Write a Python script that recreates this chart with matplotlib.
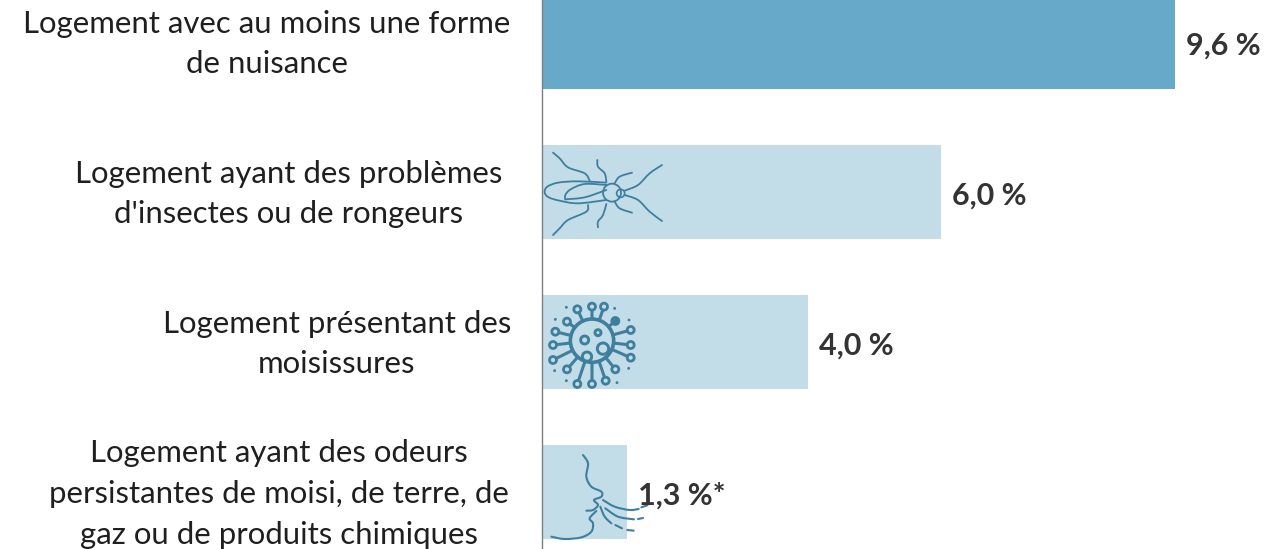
import numpy as np
import matplotlib
matplotlib.use("Agg")
import matplotlib.pyplot as plt
from matplotlib.path import Path
from matplotlib.patches import PathPatch, Ellipse

# donnees
categories = [
    "Logement avec au moins une forme\nde nuisance",
    "Logement ayant des problèmes\nd'insectes ou de rongeurs",
    "Logement présentant des\nmoisissures",
    "Logement ayant des odeurs\npersistantes de moisi, de terre, de\ngaz ou de produits chimiques",
]
values = [9.56, 6.02, 4.02, 1.28]
value_labels = ["9,6 %", "6,0 %", "4,0 %", "1,3 %*"]
bar_colors = ["#67A9C8", "#C2DCE8", "#C2DCE8", "#C2DCE8"]

# centre horizontal de chaque etiquette, en pixels
label_centers = [267, 289, 337, 279]

W, H = 1286, 549
AXIS_X = 542.0
PX_PER_UNIT = 66.2
PX_PER_ROW = 150.0
ICON = "#3F7F9E"

plt.rcParams["font.family"] = ["Lato", "DejaVu Sans"]

fig = plt.figure(figsize=(W / 100, H / 100), dpi=100)
ax = fig.add_axes([AXIS_X / W, 0, 1 - AXIS_X / W, 1])
ax.set_xlim(0, (W - AXIS_X) / PX_PER_UNIT)
ax.set_ylim((H - 42) / PX_PER_ROW, -42 / PX_PER_ROW)
ax.barh(range(len(values)), values, height=0.625, color=bar_colors, linewidth=0)

for s in ["top", "right", "bottom"]:
    ax.spines[s].set_visible(False)
ax.spines["left"].set_color("#7F7F7F")
ax.spines["left"].set_linewidth(1.0)
ax.set_xticks([])
ax.set_yticks([])

for i, (cat, val, lab, cx) in enumerate(zip(categories, values, value_labels, label_centers)):
    fig.text(cx / W, 1 - (44 + i * PX_PER_ROW) / H, cat, ha="center", va="center",
             fontsize=22.4, color="#1F1F1F", linespacing=1.56)
    ax.annotate(lab, (val, i), xytext=(8, -2.5), textcoords="offset points", ha="left",
                va="center", fontsize=22, fontweight="bold", color="#333333", zorder=5)


def to_data(pts, row):
    pts = np.array(pts, dtype=float)
    x = (pts[:, 0] - 22) / 3 / PX_PER_UNIT
    y = row + (pts[:, 1] - 156) / 3 / PX_PER_ROW
    return np.column_stack([x, y])


def curve(pts, row, lw=1.3, z=3):
    d = to_data(pts, row)
    verts = [d[0]]
    codes = [Path.MOVETO]
    # catmull-rom pour passer par les points releves
    for j in range(len(d) - 1):
        p0 = d[max(j - 1, 0)]
        p1, p2 = d[j], d[j + 1]
        p3 = d[min(j + 2, len(d) - 1)]
        verts += [p1 + (p2 - p0) / 6, p2 - (p3 - p1) / 6, p2]
        codes += [Path.CURVE4] * 3
    ax.add_patch(PathPatch(Path(verts, codes), fill=False, ec=ICON, lw=lw, capstyle="round",
                           clip_on=False, zorder=z))


def ring(cx, cy, r, row, lw=1.5, fill=False):
    c = to_data([(cx, cy)], row)[0]
    ax.add_patch(Ellipse(c, 2 * r / 3 / PX_PER_UNIT, 2 * r / 3 / PX_PER_ROW, fill=fill,
                         fc=ICON, ec=ICON, lw=lw, zorder=3))


# insecte
bug = [
    [(215, 128), (130, 124), (70, 128), (38, 140), (30, 157), (42, 172), (75, 182), (130, 190), (215, 180)],
    [(215, 135), (150, 132), (108, 148), (92, 165), (92, 178)],
    [(92, 178), (150, 172), (215, 150)],
    [(270, 152), (310, 135), (345, 100), (382, 75)],
    [(270, 165), (310, 180), (345, 215), (382, 243)],
    [(165, 122), (150, 100), (100, 82), (75, 55), (55, 38)],
    [(160, 195), (155, 215), (100, 240), (75, 265), (55, 285)],
    [(215, 125), (210, 100), (190, 80), (188, 60)],
    [(215, 192), (205, 225), (190, 245), (190, 262)],
    [(240, 130), (255, 110), (292, 98)],
    [(240, 185), (255, 205), (292, 218)],
]
for b in bug:
    curve(b, 1, lw=1.3)
ring(232, 158, 27, 1, lw=1.3)
ring(258, 160, 12, 1, lw=1.2)

# virus
VX, VY = 172, 152
spikes = [(128, 58), (172, 50), (208, 50), (97, 95), (242, 93), (62, 125), (288, 120), (55, 165),
          (288, 165), (55, 210), (288, 203), (97, 238), (242, 238), (128, 282), (172, 282), (213, 272)]
inner = [(150, 150, 12), (190, 128, 9), (205, 176, 17), (157, 200, 14)]
dots = [(95, 52), (240, 55), (62, 88), (283, 90), (60, 242), (282, 235), (95, 272), (247, 278)]
ring(VX, VY, 65, 2, lw=2.6)
for sx, sy in spikes:
    u = np.array([sx - VX, sy - VY], dtype=float)
    u /= np.hypot(*u)
    a = (VX + 65 * u[0], VY + 65 * u[1])
    b = (sx - 11 * u[0], sy - 11 * u[1])
    curve([a, b], 2, lw=2.2)
    ring(sx, sy, 10.5, 2, lw=2.0, fill=(sx, sy) == (242, 93))
for cx, cy, r in inner:
    ring(cx, cy, r, 2, lw=2.1)
for cx, cy in dots:
    ring(cx, cy, 3, 2, lw=0.6, fill=True)

# visage
face = [
    [(145, 45), (160, 70), (155, 110), (170, 140), (200, 155), (200, 170), (178, 180), (190, 195),
     (175, 210), (155, 212)],
    [(185, 213), (165, 235), (175, 250), (170, 275), (140, 292), (90, 297), (50, 290)],
    [(205, 180), (240, 200), (285, 210), (312, 207)],
    [(320, 202), (338, 196)],
    [(212, 205), (250, 230), (298, 238)],
    [(310, 237), (325, 234)],
    [(197, 200), (210, 230), (230, 250)],
    [(242, 255), (262, 265)],
    [(278, 270), (297, 272)],
]
for f in face:
    curve(f, 3, lw=1.5, z=4)

fig.savefig("out.png", dpi=100)
